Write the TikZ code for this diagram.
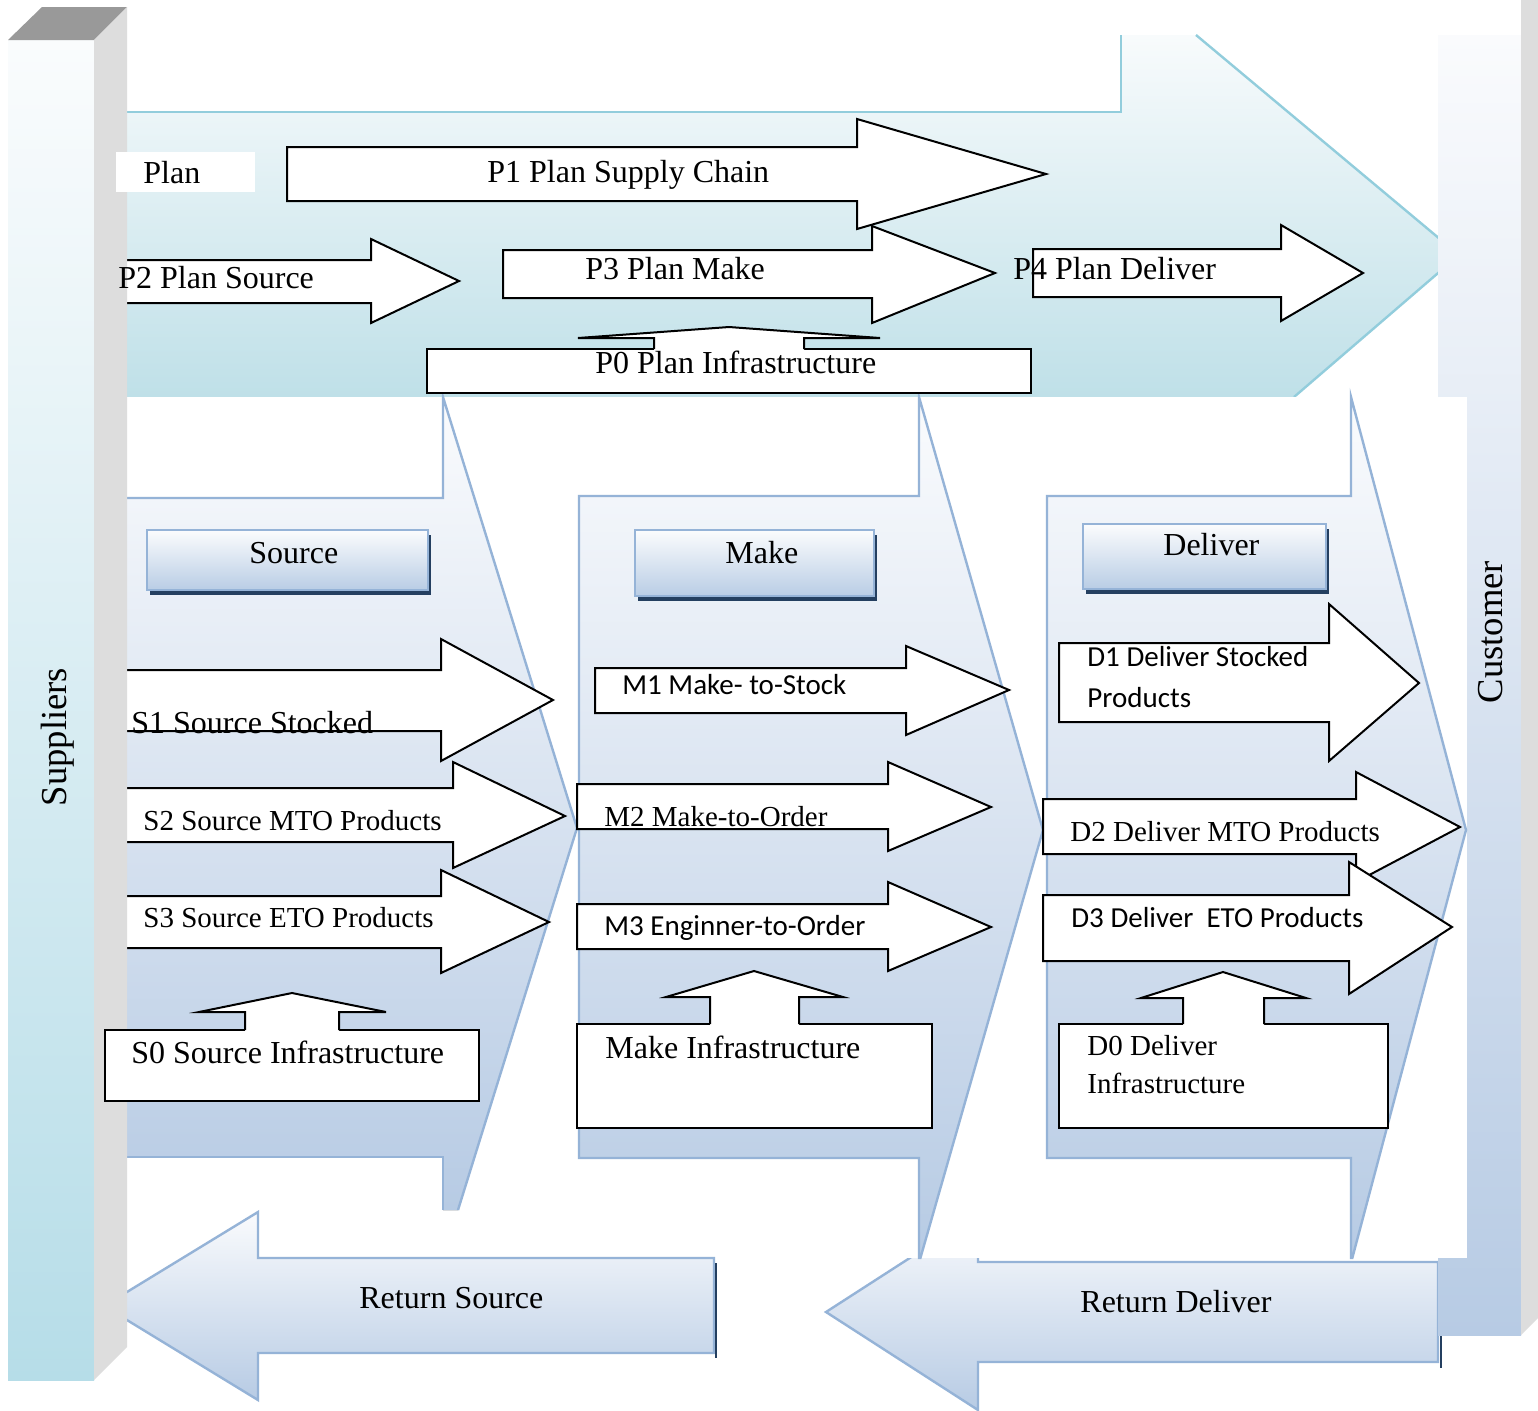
\documentclass[tikz,border=0pt]{standalone}
\usepackage{fontspec}
\setmainfont{Liberation Serif}
\newfontfamily\sansfnt{Carlito}
\definecolor{supTop}{HTML}{FAFCFD}
\definecolor{supBot}{HTML}{B6DDE8}
\definecolor{greyTop}{HTML}{999999}
\definecolor{greySide}{HTML}{DDDDDD}
\definecolor{planTop}{HTML}{F8FBFC}
\definecolor{planBot}{HTML}{BFE0E8}
\definecolor{planLine}{HTML}{92CDDC}
\definecolor{chevTop}{HTML}{FAFBFD}
\definecolor{chevBot}{HTML}{B7CBE4}
\definecolor{blueLine}{HTML}{95B3D7}
\definecolor{shadowBlue}{HTML}{243F60}
\definecolor{hdrTop}{HTML}{FBFCFD}
\definecolor{hdrBot}{HTML}{B9CDE5}
\tikzset{
  blk/.style={draw=black, line width=1pt, line join=miter, fill=white},
  bl/.style={draw=blueLine, line width=1.2pt, line join=miter},
  chev/.style={top color=chevTop, bottom color=chevBot},
  lbl/.style={inner sep=0pt, anchor=base west, font=\fontsize{16}{19}\selectfont},
  lbls/.style={inner sep=0pt, anchor=base west, font=\fontsize{14.5}{17}\selectfont},
  lblc/.style={inner sep=0pt, anchor=base west, font=\sansfnt\fontsize{14.5}{17}\selectfont},
  vert/.style={inner sep=0pt, anchor=base, rotate=90, font=\fontsize{18.3}{22}\selectfont},
}
% right block arrow: body left, body top, body bottom, head x, head top, head bottom, tip x, tip y
\newcommand{\blockR}[8]{\draw[blk] (#1,#2) -- (#4,#2) -- (#4,#5) -- (#7,#8) -- (#4,#6) -- (#4,#3) -- (#1,#3) -- cycle;}
% up arrow: shaft left, shaft right, base y, wing y, wing left, wing right, apex x, apex y
\newcommand{\blockU}[8]{%
  \fill[white] (#1,#3+1.5) -- (#1,#4) -- (#5,#4) -- (#7,#8) -- (#6,#4) -- (#2,#4) -- (#2,#3+1.5) -- cycle;
  \draw[draw=black, line width=1pt, line join=miter] (#1,#3) -- (#1,#4) -- (#5,#4) -- (#7,#8) -- (#6,#4) -- (#2,#4) -- (#2,#3);}
% header box with shadow
\newcommand{\hdrbox}[4]{%
  \fill[shadowBlue] (#1+3,#2+5) rectangle (#3+3,#4+5);
  \path[top color=hdrTop, bottom color=hdrBot, draw=blueLine, line width=1.2pt] (#1,#2) rectangle (#3,#4);}
\begin{document}
\begin{tikzpicture}[x=0.5pt,y=-0.5pt]
\useasboundingbox (0,0) rectangle (1538,1410);
\fill[white] (0,0) rectangle (1538,1410);

% Return Deliver
\path[chev, bl] (1438,1262) -- (978,1262) -- (978,1214) -- (826,1312) -- (978,1410) -- (978,1362) -- (1438,1362) -- cycle;
\draw[shadowBlue, line width=1pt] (1441,1267) -- (1441,1368);

% Plan band
\fill[top color=planTop, bottom color=planBot] (127,112) -- (1121,112) -- (1121,35) -- (1196,35) -- (1459,255) -- (1294,397) -- (127,397) -- cycle;
\draw[draw=planLine, line width=1.2pt, line join=miter] (127,112) -- (1121,112) -- (1121,35);
\draw[draw=planLine, line width=1.2pt, line join=miter] (1196,35) -- (1459,255) -- (1294,397);

% Customer bar
\fill[top color=chevTop, bottom color=chevBot] (1438,35) rectangle (1521,1335);
\fill[greySide] (1521,0) -- (1538,0) -- (1538,1318) -- (1521,1335) -- cycle;

% white backdrop of the lower group
\fill[white] (127,397) rectangle (1467,1258);

% Chevrons
\fill[chev] (100,498) -- (443,498) -- (443,397) -- (577,828) -- (458,1210) -- (443,1210) -- (443,1157) -- (100,1157) -- cycle;
\draw[bl] (100,498) -- (443,498) -- (443,397) -- (577,828) -- (458,1210);
\draw[bl] (443,1210) -- (443,1157) -- (100,1157);
\path[chev, bl] (579,496) -- (919,496) -- (919,397) -- (1043,830) -- (920.4,1258) -- (919,1258) -- (919,1158) -- (579,1158) -- cycle;
\path[chev, bl] (1047,496) -- (1351,496) -- (1351,397) -- (1466,830) -- (1352.3,1258) -- (1351,1258) -- (1351,1158) -- (1047,1158) -- cycle;

% Return Source
\path[chev, bl] (714,1258) -- (258,1258) -- (258,1212) -- (104,1306) -- (258,1400) -- (258,1353) -- (714,1353) -- cycle;
\draw[shadowBlue, line width=1pt] (716,1263) -- (716,1358);

% arrows starting under the suppliers bar
\blockR{100}{260}{303}{371}{239}{323}{459}{281}
\blockR{100}{670}{731}{441}{639}{761}{553}{700}
\blockR{100}{788}{842}{453}{762}{868}{565}{816}
\blockR{100}{896}{948}{441}{870}{973}{549}{922}

% Suppliers bar
\fill[top color=supTop, bottom color=supBot] (8,40) rectangle (94,1380);
\fill[greyTop] (8,40) -- (42,7) -- (127,7) -- (94,40) -- cycle;
\fill[greySide] (94,40) -- (127,7) -- (127,1347) -- (94,1380) -- cycle;

% Plan label background
\fill[white] (116,152) rectangle (255,192);

% Plan arrows
\blockR{287}{147}{201}{857}{119}{229}{1046}{174}
\blockR{503}{250}{298}{872}{226}{323}{995}{273}
\blockR{1033}{249}{297}{1281}{225}{321}{1363}{273}
\draw[blk] (427,349) rectangle (1031,393);
\blockU{654}{804}{349}{338}{578}{880}{729}{327}

% headers
\hdrbox{147}{530}{428}{590}
\hdrbox{635}{530}{874}{596}
\hdrbox{1083}{524}{1326}{589}

% Make arrows
\blockR{595}{668}{713}{906}{646}{735}{1009}{690}
\blockR{577}{784}{829}{888}{762}{851}{991}{807}
\blockR{577}{904}{949}{888}{882}{971}{991}{927}

% Deliver arrows
\blockR{1059}{643}{722}{1329}{604}{761}{1419}{683}
\blockR{1043}{799}{854}{1356}{772}{882}{1460}{827}
\blockR{1043}{895}{961}{1349}{862}{994}{1452}{927}

% infrastructure boxes
\draw[blk] (105,1030) rectangle (479,1101);
\blockU{245}{339}{1030}{1012}{199}{386}{292}{993}
\draw[blk] (577,1024) rectangle (932,1128);
\blockU{710}{799}{1024}{997}{666}{843}{754}{971}
\draw[blk] (1059,1024) rectangle (1388,1128);
\blockU{1183}{1264}{1024}{998}{1141}{1306}{1223}{972}

% texts
\node[lbl] (tPlan) at (143,183) {Plan};
\node[lbl] (tP1) at (487,182) {P1 Plan Supply Chain};
\node[lbl] (tP2) at (118,288) {P2 Plan Source};
\node[lbl] (tP3) at (585,279) {P3 Plan Make};
\node[lbl] (tP4) at (1013,279) {P4 Plan Deliver};
\node[lbl] (tP0) at (595,373) {P0 Plan Infrastructure};
\node[lbl] (tSource) at (249,563) {Source};
\node[lbl] (tMake) at (725,563) {Make};
\node[lbl] (tDeliver) at (1163,555) {Deliver};
\node[lbl] (tS1) at (131,733) {S1 Source Stocked};
\node[lbls] (tS2) at (143,830) {S2 Source MTO Products};
\node[lbls] (tS3) at (143,927) {S3 Source ETO Products};
\node[lbl] (tS0) at (131,1063) {S0 Source Infrastructure};
\node[lblc] (tM1) at (622,694) {M1 Make- to-Stock};
\node[lbls] (tM2) at (604,826) {M2 Make-to-Order};
\node[lblc] (tM3) at (604,935) {M3 Enginner-to-Order};
\node[lbl] (tMI) at (605,1058) {Make Infrastructure};
\node[lblc] (tD1a) at (1087,666) {D1 Deliver Stocked};
\node[lblc] (tD1b) at (1087,707) {Products};
\node[lbls] (tD2) at (1070,841) {D2 Deliver MTO Products};
\node[lblc] (tD3) at (1071,927) {D3 Deliver\ \ ETO Products};
\node[lbls] (tD0a) at (1087,1055) {D0 Deliver};
\node[lbls] (tD0b) at (1087,1093) {Infrastructure};
\node[lbl] (tRS) at (359,1308) {Return Source};
\node[lbl] (tRD) at (1080,1312) {Return Deliver};
\node[vert] (tSup) at (66,737) {Suppliers};
\node[vert] (tCust) at (1502,632) {Customer};
\end{tikzpicture}
\end{document}
